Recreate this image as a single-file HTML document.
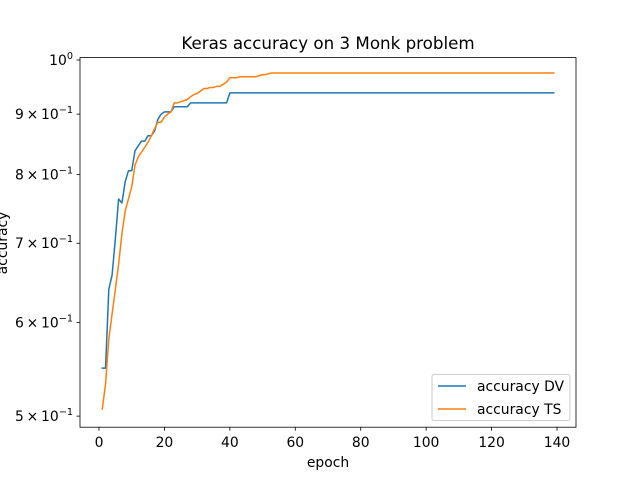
<!DOCTYPE html>
<html><head><meta charset="utf-8"><style>
body{margin:0;background:#fff}
svg{display:block;font-family:"DejaVu Sans","Liberation Sans",sans-serif}
</style></head><body>
<svg width="640" height="480" viewBox="0 0 640 480">
<rect width="640" height="480" fill="#fff"/>
<text x="328" y="49" text-anchor="middle" font-size="16.7">Keras accuracy on 3 Monk problem</text>
<g id="plot"></g>
<rect x="80" y="57.6" width="496" height="369.6" fill="none" stroke="#000" stroke-width="0.8"/>
<text x="328" y="467" text-anchor="middle" font-size="13.9">epoch</text>
<text transform="translate(7,243) rotate(-90)" text-anchor="middle" font-size="13.9">accuracy</text>
<g>
<rect x="432" y="374.5" width="138" height="46" rx="2" fill="#fff" fill-opacity="0.8" stroke="#ccc" stroke-width="1"/>
<line x1="438" y1="386" x2="466" y2="386" stroke="#1f77b4" stroke-width="1.5"/>
<text x="477" y="391" font-size="13.9">accuracy DV</text>
<line x1="438" y1="409" x2="466" y2="409" stroke="#ff7f0e" stroke-width="1.5"/>
<text x="477" y="414" font-size="13.9">accuracy TS</text>
</g>
</svg>
<script>
const xTicks=[0,20,40,60,80,100,120,140];
const yTicks=[1.0,0.9,0.8,0.7,0.6,0.5];
const yTickLabels=[["10","0"],["9\u2009\u00d7\u200910","\u22121"],["8\u2009\u00d7\u200910","\u22121"],["7\u2009\u00d7\u200910","\u22121"],["6\u2009\u00d7\u200910","\u22121"],["5\u2009\u00d7\u200910","\u22121"]];
const dvHead=[0.549,0.549,0.640,0.658,0.706,0.763,0.757,0.789,0.806,0.806,0.838,0.846,0.854,0.854,0.863,0.863,0.871,0.891,0.900,0.904,0.904,0.904,0.913,0.913,0.913,0.913,0.913,0.920,0.920,0.920,0.920,0.920,0.920,0.920,0.920,0.920,0.920,0.920,0.920];
const dvTail=0.938;
const tsHead=[0.507,0.532,0.581,0.610,0.640,0.672,0.713,0.745,0.763,0.781,0.815,0.828,0.836,0.844,0.852,0.863,0.875,0.886,0.886,0.895,0.900,0.904,0.920,0.920,0.922,0.924,0.926,0.931,0.935,0.937,0.941,0.946,0.946,0.948,0.948,0.950,0.950,0.954,0.958,0.966,0.966,0.966,0.968,0.968,0.968,0.968,0.968,0.968,0.970,0.972,0.972,0.974,0.975,0.975];
const tsTail=0.975;
const nEpochs=139;
const NS="http://www.w3.org/2000/svg";
function xs(e){return 99+(e)*458/140;}
function ys(v){return 60-Math.log10(v)*1183;}
function mk(t,a,p){const el=document.createElementNS(NS,t);for(const k in a)el.setAttribute(k,a[k]);p.appendChild(el);return el;}
const g=document.getElementById('plot');
const svg=document.querySelector('svg');
xTicks.forEach(t=>{
 const x=xs(t);
 const l=mk('line',{x1:x,y1:427.2,x2:x,y2:430.7,stroke:'#000','stroke-width':0.8},svg);
 
 
 const tx=mk('text',{x:x,y:447,'text-anchor':'middle','font-size':13.9},svg);
 tx.textContent=t;
 
 
});
yTicks.forEach((v,i)=>{
 const y=ys(v);
 const l=mk('line',{x1:76.5,y1:y,x2:80,y2:y,stroke:'#000','stroke-width':0.8},svg);
 
 
 const tx=mk('text',{x:73,y:y+5,'text-anchor':'end','font-size':13.9},svg);
 
 
 const a=mk('tspan',{},tx);a.textContent=yTickLabels[i][0];
 const b=mk('tspan',{'font-size':9.7,dy:-6},tx);b.textContent=yTickLabels[i][1];
});
function series(head,tail){const out=[];for(let e=1;e<=nEpochs;e++){out.push(e<=head.length?head[e-1]:tail);}return out;}
function draw(vals,color,name){
 const d=vals.map((v,i)=>(i?'L':'M')+xs(i+1).toFixed(2)+','+ys(v).toFixed(2)).join('');
 const p=mk('path',{d:d,fill:'none',stroke:color,'stroke-width':1.5,'stroke-linejoin':'round','stroke-linecap':'square'},g);
 
 
}
draw(series(dvHead,dvTail),'#1f77b4','line-accuracy-dv');
draw(series(tsHead,tsTail),'#ff7f0e','line-accuracy-ts');
</script>
</body></html>
